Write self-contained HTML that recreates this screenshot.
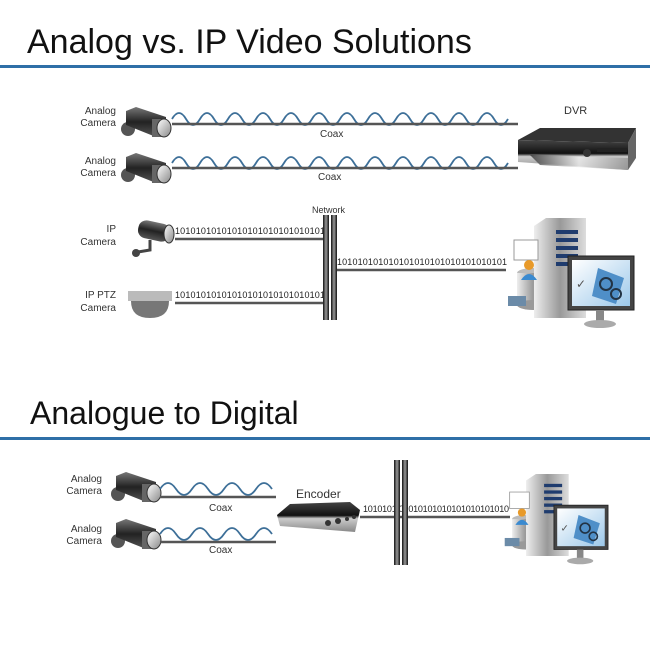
<!DOCTYPE html>
<html><head><meta charset="utf-8"><style>
html,body{margin:0;padding:0;background:#fff;}
svg{display:block;}
text{font-family:"Liberation Sans",sans-serif;}
</style></head><body>
<svg width="650" height="650" viewBox="0 0 650 650" xmlns="http://www.w3.org/2000/svg">
<defs>
<linearGradient id="cam" x1="0" y1="0" x2="0" y2="1"><stop offset="0" stop-color="#777"/><stop offset="0.5" stop-color="#222"/><stop offset="1" stop-color="#555"/></linearGradient>
<linearGradient id="lens" x1="0" y1="0" x2="1" y2="1"><stop offset="0" stop-color="#fff"/><stop offset="1" stop-color="#888"/></linearGradient>
<linearGradient id="bar" x1="0" y1="0" x2="1" y2="0"><stop offset="0" stop-color="#111"/><stop offset="0.5" stop-color="#999"/><stop offset="1" stop-color="#111"/></linearGradient>
<linearGradient id="tower" x1="0" y1="0" x2="1" y2="0"><stop offset="0" stop-color="#eee"/><stop offset="0.5" stop-color="#999"/><stop offset="1" stop-color="#ddd"/></linearGradient>
<linearGradient id="scr" x1="0" y1="0" x2="1" y2="1"><stop offset="0" stop-color="#fff"/><stop offset="1" stop-color="#9cc8ea"/></linearGradient>
<linearGradient id="box" x1="0" y1="0" x2="0" y2="1"><stop offset="0" stop-color="#444"/><stop offset="0.45" stop-color="#111"/><stop offset="0.55" stop-color="#ccc"/><stop offset="1" stop-color="#888"/></linearGradient>
<linearGradient id="front" x1="0" y1="0" x2="1" y2="0"><stop offset="0" stop-color="#333"/><stop offset="0.5" stop-color="#eee"/><stop offset="1" stop-color="#999"/></linearGradient>
<g id="acam">
 <circle cx="6" cy="22" r="7" fill="#555"/>
 <polygon points="4,4 14,0 44,10 44,28 34,30 4,18" fill="url(#cam)"/>
 <rect x="30" y="12" width="14" height="18" fill="#666"/>
 <ellipse cx="42" cy="21" rx="7" ry="9" fill="url(#lens)" stroke="#333"/>
</g>
<g id="server">
 <ellipse cx="21" cy="55" rx="16" ry="5" fill="#bbb"/>
 <rect x="5" y="55" width="32" height="32" fill="url(#tower)"/>
 <ellipse cx="21" cy="87" rx="16" ry="5" fill="#999"/>
 <rect x="-4" y="78" width="18" height="10" fill="#6b8ba8"/>
 <polygon points="22,8 34,0 74,0 74,100 22,100" fill="url(#tower)"/>
 <rect x="44" y="12" width="22" height="4" fill="#1f3c6e"/><rect x="44" y="20" width="22" height="4" fill="#1f3c6e"/><rect x="44" y="28" width="22" height="4" fill="#1f3c6e"/><rect x="44" y="36" width="22" height="4" fill="#1f3c6e"/><rect x="44" y="44" width="22" height="4" fill="#1f3c6e"/>
 <rect x="2" y="22" width="24" height="20" fill="#fff" stroke="#999"/>
 <circle cx="17" cy="47" r="5" fill="#e89a2a"/>
 <path d="M9,62 Q17,50 25,62 Z" fill="#3a8ad0"/>
 <rect x="56" y="38" width="66" height="54" fill="#444" stroke="#222"/>
 <rect x="60" y="42" width="58" height="46" fill="url(#scr)"/>
 <polygon points="86,50 112,60 104,86 80,78" fill="#4f8fc8"/>
 <circle cx="94" cy="66" r="6" fill="none" stroke="#234" stroke-width="2"/>
 <circle cx="104" cy="76" r="5" fill="none" stroke="#234" stroke-width="2"/>
 <text x="64" y="70" font-size="12" fill="#555">✓</text>
 <rect x="84" y="92" width="8" height="12" fill="#888"/>
 <ellipse cx="88" cy="106" rx="16" ry="4" fill="#aaa"/>
</g>
</defs>

<text x="27" y="53" font-size="34" fill="#111">Analog vs. IP Video Solutions</text>
<rect x="0" y="65" width="650" height="3" fill="#2f6fa7"/>

<g font-size="10" fill="#333" text-anchor="end">
<text x="116" y="114">Analog</text><text x="116" y="126">Camera</text>
<text x="116" y="164">Analog</text><text x="116" y="176">Camera</text>
<text x="116" y="232">IP</text><text x="116" y="245">Camera</text>
<text x="116" y="298">IP PTZ</text><text x="116" y="311">Camera</text>
<text x="102" y="482">Analog</text><text x="102" y="494">Camera</text>
<text x="102" y="532">Analog</text><text x="102" y="544">Camera</text>
</g>

<use href="#acam" x="122" y="107"/>
<use href="#acam" x="122" y="153"/>
<use href="#acam" x="112" y="472"/>
<use href="#acam" x="112" y="519"/>

<g>
 <path d="M150,240 L150,250 L138,252" stroke="#444" stroke-width="3" fill="none"/>
 <circle cx="136" cy="253" r="4" fill="#444"/>
 <rect x="138" y="222" width="32" height="18" rx="8" fill="url(#cam)" transform="rotate(12 154 231)"/>
 <ellipse cx="169" cy="234" rx="5" ry="9" fill="url(#lens)" stroke="#333"/>
</g>
<rect x="128" y="291" width="44" height="10" fill="#bbb"/>
<path d="M131,301 L169,301 Q169,318 150,318 Q131,318 131,301 Z" fill="#777"/>

<g fill="none" stroke="#3d6f98" stroke-width="1.8">
<path d="M172,119 q7,-12 14,0 t14,0 t14,0 t14,0 t14,0 t14,0 t14,0 t14,0 t14,0 t14,0 t14,0 t14,0 t14,0 t14,0 t14,0 t14,0 t14,0 t14,0 t14,0 t14,0 t14,0 t14,0 t14,0 t14,0"/>
<path d="M172,163 q7,-12 14,0 t14,0 t14,0 t14,0 t14,0 t14,0 t14,0 t14,0 t14,0 t14,0 t14,0 t14,0 t14,0 t14,0 t14,0 t14,0 t14,0 t14,0 t14,0 t14,0 t14,0 t14,0 t14,0 t14,0"/>
<path d="M160,489 q8,-12 16,0 t16,0 t16,0 t16,0 t16,0 t16,0 t16,0"/>
<path d="M160,534 q8,-12 16,0 t16,0 t16,0 t16,0 t16,0 t16,0 t16,0"/>
</g>
<g stroke="#555" stroke-width="2.5">
<line x1="172" y1="124" x2="518" y2="124"/>
<line x1="172" y1="168" x2="518" y2="168"/>
<line x1="175" y1="239" x2="325" y2="239"/>
<line x1="175" y1="303" x2="325" y2="303"/>
<line x1="336" y1="270" x2="506" y2="270"/>
<line x1="160" y1="497" x2="276" y2="497"/>
<line x1="160" y1="542" x2="276" y2="542"/>
<line x1="360" y1="517" x2="510" y2="517"/>
</g>
<g font-size="10" fill="#333">
<text x="320" y="137">Coax</text><text x="318" y="180">Coax</text>
<text x="209" y="511">Coax</text><text x="209" y="553">Coax</text>
<text x="312" y="213" font-size="9">Network</text>
<text x="564" y="114" font-size="11">DVR</text>
<text x="296" y="498" font-size="12">Encoder</text>
</g>
<g font-size="9" fill="#222">
<text x="175" y="234" textLength="150">10101010101010101010101010101</text>
<text x="175" y="298" textLength="150">10101010101010101010101010101</text>
<text x="337" y="265" textLength="170">101010101010101010101010101010101</text>
<text x="363" y="512" textLength="146">1010101 01010101010101010101010</text>
</g>
<rect x="323" y="215" width="6" height="105" fill="url(#bar)"/>
<rect x="331" y="215" width="6" height="105" fill="url(#bar)"/>
<rect x="394" y="460" width="6" height="105" fill="url(#bar)"/>
<rect x="402" y="460" width="6" height="105" fill="url(#bar)"/>

<!-- DVR -->
<polygon points="518,140 540,128 636,128 628,143" fill="#333"/>
<polygon points="518,140 628,143 628,170 518,162" fill="url(#box)"/>
<polygon points="628,143 636,128 636,158 628,170" fill="#666"/>
<polygon points="530,155 628,158 628,170 540,165" fill="url(#front)" opacity="0.8"/>
<rect x="597" y="148" width="30" height="4" fill="#222"/>
<circle cx="587" cy="153" r="4" fill="#333"/>

<!-- encoder -->
<polygon points="277,515 290,504 350,502 360,510 355,532 280,526" fill="url(#box)"/>
<circle cx="328" cy="523" r="3" fill="#333"/><circle cx="338" cy="521" r="3" fill="#333"/><circle cx="347" cy="519" r="2" fill="#333"/><circle cx="354" cy="517" r="2" fill="#333"/>

<use href="#server" x="512" y="218"/>
<use href="#server" transform="translate(508,474) scale(0.82)"/>

<text x="30" y="424" font-size="32" fill="#111">Analogue to Digital</text>
<rect x="0" y="437" width="650" height="3" fill="#2f6fa7"/>
</svg>
</body></html>
